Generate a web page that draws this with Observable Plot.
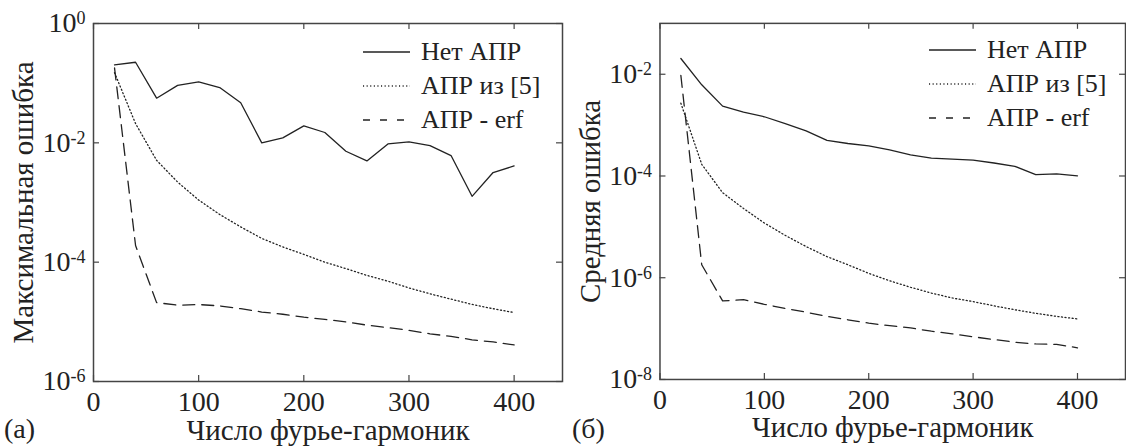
<!DOCTYPE html>
<html><head><meta charset="utf-8">
<script src="https://cdn.jsdelivr.net/npm/d3@7"></script>
<script src="https://cdn.jsdelivr.net/npm/@observablehq/plot@0.6"></script>
<style>
body{margin:0;background:#fff;}
#wrap{position:relative;width:1126px;height:448px;overflow:hidden;font-family:"Liberation Serif","Times New Roman",serif;color:#222;}
.panel{position:absolute;top:0;}
.panel svg, .panel svg text{font-family:"Liberation Serif","Times New Roman",serif !important;}
.legrow{position:absolute;white-space:nowrap;display:flex;align-items:center;height:30px;font-size:26px;line-height:30px;}
.legrow svg{margin-right:11px;flex:none;}
.tag{position:absolute;font-size:28px;line-height:28px;}
</style></head><body><div id="wrap"></div>
<script>
const harmonics = [20,40,60,80,100,120,140,160,180,200,220,240,260,280,300,320,340,360,380,400];
const seriesNames = ["Нет АПР","АПР из [5]","АПР - erf"];
// (a) maximal error
const maxNone = [0.203,0.224,0.056,0.092,0.105,0.0845,0.047,0.0100,0.0121,0.0192,0.0149,0.00723,0.00498,0.0096,0.01035,0.0090,0.00612,0.00127,0.00318,0.0041];
const maxRef5 = [0.15,0.021,0.0051,0.0022,0.0011,6.3e-4,3.9e-4,2.5e-4,1.8e-4,1.35e-4,1.0e-4,7.8e-5,6.0e-5,4.8e-5,3.7e-5,2.95e-5,2.4e-5,1.96e-5,1.66e-5,1.43e-5];
const maxErf = [0.18,1.9e-4,2.1e-5,1.9e-5,1.95e-5,1.85e-5,1.66e-5,1.46e-5,1.34e-5,1.2e-5,1.1e-5,1.0e-5,8.8e-6,8.0e-6,7.2e-6,6.3e-6,5.7e-6,5.0e-6,4.6e-6,4.1e-6];
// (б) mean error
const meanNone = [0.0204,0.0062,0.00236,0.0018,0.00146,0.00107,7.7e-4,5.0e-4,4.35e-4,3.9e-4,3.25e-4,2.6e-4,2.25e-4,2.15e-4,2.05e-4,1.8e-4,1.55e-4,1.06e-4,1.1e-4,1.01e-4];
const meanRef5 = [0.0027,1.7e-4,4.7e-5,2.3e-5,1.19e-5,6.8e-6,4.1e-6,2.6e-6,1.8e-6,1.22e-6,8.7e-7,6.5e-7,5.0e-7,4.0e-7,3.4e-7,2.8e-7,2.35e-7,2.0e-7,1.74e-7,1.55e-7];
const meanErf = [0.0095,1.8e-6,3.5e-7,3.7e-7,3.0e-7,2.5e-7,2.1e-7,1.74e-7,1.49e-7,1.28e-7,1.14e-7,1.03e-7,8.9e-8,7.9e-8,6.9e-8,6.1e-8,5.4e-8,5.0e-8,4.9e-8,4.2e-8];
const xTicks = [0,100,200,300,400];
const yTicksMax = [1e-6,1e-4,1e-2,1];
const yTicksMean = [1e-8,1e-6,1e-4,1e-2];
const xLabel = "Число фурье-гармоник";
const yLabelMax = "Максимальная ошибка";
const yLabelMean = "Средняя ошибка";
const panelTags = ["(a)","(б)"];

const FONT = '"Liberation Serif", "Times New Roman", serif';
const dashes = [null, "1.1,2.5", "12,7"];
const INK = "#222";

function panel({series, yDomain, yTicks, yLabel, marginLeft, width}) {
  const marginTop = 23, marginBottom = 67, marginRight = 1, height = 448;
  const ph = height - marginTop - marginBottom;
  const pw = width - marginLeft - marginRight;
  const T = 6;
  const marks = [
    ...series.map((arr, s) => Plot.line(harmonics, {x: harmonics, y: arr, stroke: INK, strokeWidth: 1.3, strokeDasharray: dashes[s] || undefined})),
    Plot.tickX(xTicks, {x: d => d, insetTop: ph - T, stroke: "#444", strokeWidth: 1.2}),
    Plot.tickX(xTicks, {x: d => d, insetBottom: ph - T, stroke: "#444", strokeWidth: 1.2}),
    Plot.tickY(yTicks, {y: d => d, insetRight: pw - T, stroke: "#444", strokeWidth: 1.2}),
    Plot.tickY(yTicks, {y: d => d, insetLeft: pw - T, stroke: "#444", strokeWidth: 1.2}),
    Plot.frame({stroke: "#444", strokeWidth: 1.5}),
    Plot.axisX(xTicks, {tickSize: 0, tickPadding: 10, fontSize: 28, fill: INK}),
    Plot.axisX({ticks: [], tickSize: 0, fontSize: 29, fill: INK, label: xLabel, labelAnchor: "center", labelOffset: 58, labelArrow: false}),
    Plot.axisY(yTicks, {tickSize: 0, tickPadding: 8, fontSize: 28, fill: INK, tickFormat: d => "10^" + Math.round(Math.log10(d))}),
    Plot.axisY({ticks: [], tickSize: 0, fontSize: 29, fill: INK, label: yLabel, labelAnchor: "center", labelOffset: 81, labelArrow: false})
  ];
  const svg = Plot.plot({
    width, height, marginLeft, marginRight, marginTop, marginBottom,
    style: {fontFamily: FONT, fontSize: "28px", background: "transparent", color: INK, overflow: "visible"},
    x: {domain: [0, 446]},
    y: {type: "log", domain: yDomain},
    marks
  });
  const ns = "http://www.w3.org/2000/svg";
  svg.querySelectorAll('g[aria-label="y-axis tick label"] text').forEach(t => {
    const s = t.textContent;
    if (!s.includes("^")) return;
    const [b, e] = s.split("^");
    t.textContent = "";
    const t1 = document.createElementNS(ns, "tspan"); t1.textContent = b; t.appendChild(t1);
    const t2 = document.createElementNS(ns, "tspan"); t2.setAttribute("dy", "-0.45em"); t2.setAttribute("font-size", "18px"); t2.textContent = e; t.appendChild(t2);
  });
  return svg;
}

const wrap = document.getElementById("wrap");
function place(svg, left) { const d = document.createElement("div"); d.className = "panel"; d.style.left = left + "px"; d.appendChild(svg); wrap.appendChild(d); }

place(panel({series: [maxNone, maxRef5, maxErf], yDomain: [1e-6, 1], yTicks: yTicksMax, yLabel: yLabelMax, marginLeft: 93, width: 563}), 0);
place(panel({series: [meanNone, meanRef5, meanErf], yDomain: [1e-8, 1e-1], yTicks: yTicksMean, yLabel: yLabelMean, marginLeft: 97, width: 566}), 563);

function legend(left, top, rowStep) {
  seriesNames.forEach((name, s) => {
    const row = document.createElement("div");
    row.className = "legrow";
    row.style.left = left + "px";
    row.style.top = (top + s * rowStep - 15) + "px";
    const dash = dashes[s] ? ` stroke-dasharray="${s === 1 ? "1.1,2.5" : "7,10"}"` : "";
    row.innerHTML = `<svg width="47" height="4"><line x1="0" x2="47" y1="2" y2="2" stroke="${INK}" stroke-width="1.3"${dash}/></svg><span>${name}</span>`;
    wrap.appendChild(row);
  });
}
legend(363, 52, 34);
legend(929, 50, 34);

panelTags.forEach((tag, i) => {
  const d = document.createElement("div");
  d.className = "tag"; d.textContent = tag;
  d.style.left = (i === 0 ? 4 : 572) + "px"; d.style.top = "415px";
  wrap.appendChild(d);
});
</script></body></html>
